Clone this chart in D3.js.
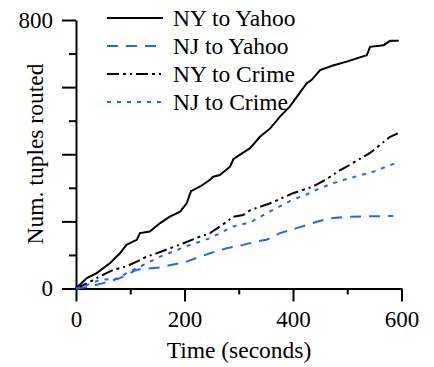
<!DOCTYPE html>
<html>
<head>
<meta charset="utf-8">
<script src="https://cdn.jsdelivr.net/npm/d3@7"></script>
<style>
  body { margin: 0; background: #fff; }
  svg text { font-family: "Times New Roman", Times, "Liberation Serif", "DejaVu Serif", serif; }
</style>
</head>
<body>
<svg id="chart" width="434" height="367"></svg>
<script>
// series: time (s) and tuples routed
const nyYahooT = [0, 7, 20, 38, 63, 81, 93, 112, 118, 136, 155, 173, 192, 204, 212, 229, 247, 253, 265, 284, 290, 308, 321, 339, 358, 376, 394, 407, 425, 434, 450, 475, 499, 536, 542, 567, 579, 595];
const nyYahooV = [0, 11, 31, 46, 76, 105, 130, 145, 165, 170, 195, 214, 229, 254, 290, 304, 324, 333, 338, 363, 385, 405, 418, 452, 477, 512, 542, 571, 611, 621, 651, 665, 676, 695, 720, 725, 738, 738];

const njYahooT = [0, 26, 50, 81, 112, 155, 204, 229, 247, 278, 308, 333, 351, 376, 407, 444, 468, 499, 585];
const njYahooV = [0, 6, 16, 31, 56, 63, 80, 95, 105, 120, 130, 140, 145, 165, 180, 199, 209, 214, 216];

const nyCrimeT = [0, 20, 38, 69, 93, 112, 130, 149, 198, 229, 247, 278, 290, 308, 322, 358, 400, 419, 437, 460, 487, 499, 542, 579, 600];
const nyCrimeV = [0, 15, 31, 56, 66, 80, 95, 105, 135, 155, 165, 199, 214, 219, 234, 254, 284, 294, 304, 324, 353, 363, 404, 452, 467];

const njCrimeT = [0, 20, 44, 80, 93, 124, 155, 210, 229, 247, 290, 321, 351, 388, 400, 425, 450, 474, 505, 548, 588];
const njCrimeV = [0, 10, 26, 30, 46, 70, 95, 130, 140, 150, 185, 197, 224, 255, 265, 280, 299, 314, 329, 348, 373];

const seriesNames = ['NY to Yahoo', 'NJ to Yahoo', 'NY to Crime', 'NJ to Crime'];

const xMajor = [0, 200, 400, 600];
const xMinor = [100, 300, 500];
const yMajor = [0, 200, 400, 600, 800];
const yMinor = [100, 300, 500, 700];
const yLabelled = [0, 800];

const blue = '#1f66ff';
const styles = [
  { color: '#000', dash: null },
  { color: blue, dash: '11,8' },
  { color: '#000', dash: '12,4,3,4,2,4' },
  { color: blue, dash: '4,6' }
];

const svg = d3.select('#chart');

const x = d3.scaleLinear().domain([0, 600]).range([76, 401.5]);
const y = d3.scaleLinear().domain([0, 800]).range([288.5, 20]);

// axes
const xAxisMinor = svg.append('g').attr('transform', `translate(0,${y(0)})`)
  .call(d3.axisBottom(x).tickValues(xMinor).tickSize(6).tickSizeOuter(0).tickFormat(''));
xAxisMinor.select('.domain').remove();
const xAxisMajor = svg.append('g').attr('transform', `translate(0,${y(0)})`)
  .call(d3.axisBottom(x).tickValues(xMajor).tickSize(13).tickSizeOuter(0).tickPadding(5));

const yAxisMinor = svg.append('g').attr('transform', `translate(${x(0)},0)`)
  .call(d3.axisLeft(y).tickValues(yMinor).tickSize(7).tickFormat(''));
yAxisMinor.select('.domain').remove();
const yAxisMajor = svg.append('g').attr('transform', `translate(${x(0)},0)`)
  .call(d3.axisLeft(y).tickValues(yMajor).tickSize(14).tickSizeOuter(0).tickPadding(9)
    .tickFormat(d => yLabelled.includes(d) ? d : ''));

svg.selectAll('g').attr('font-family', null);
svg.selectAll('.domain, .tick line').attr('stroke', '#000').attr('stroke-width', 2);
svg.selectAll('.tick text').attr('font-size', 23).attr('fill', '#000');
xAxisMajor.selectAll('.tick text').attr('dy', '0.9em');

// axis titles
svg.append('text')
  .attr('x', 239).attr('y', 358)
  .attr('text-anchor', 'middle').attr('font-size', 23.5)
  .text('Time (seconds)');

svg.append('text')
  .attr('transform', 'translate(35,154) rotate(-90)')
  .attr('text-anchor', 'middle').attr('dy', '0.35em').attr('font-size', 23.5)
  .text('Num. tuples routed');

// lines
const allSeries = [
  nyYahooT.map((t, i) => [t, nyYahooV[i]]),
  njYahooT.map((t, i) => [t, njYahooV[i]]),
  nyCrimeT.map((t, i) => [t, nyCrimeV[i]]),
  njCrimeT.map((t, i) => [t, njCrimeV[i]])
];

const line = d3.line().x(d => x(d[0])).y(d => y(d[1]));

allSeries.forEach((s, i) => {
  svg.append('path')
    .datum(s)
    .attr('d', line)
    .attr('fill', 'none')
    .attr('stroke', styles[i].color)
    .attr('stroke-width', 2)
    .attr('stroke-dasharray', styles[i].dash);
});

// legend
const legend = svg.append('g');
seriesNames.forEach((name, i) => {
  const ly = 18 + i * 28;
  legend.append('line')
    .attr('x1', 107).attr('x2', 163).attr('y1', ly).attr('y2', ly)
    .attr('stroke', styles[i].color).attr('stroke-width', 2)
    .attr('stroke-dasharray', styles[i].dash);
  legend.append('text')
    .attr('x', 173).attr('y', ly).attr('dy', '0.35em')
    .attr('font-size', 23.5)
    .text(name);
});
</script>
</body>
</html>
